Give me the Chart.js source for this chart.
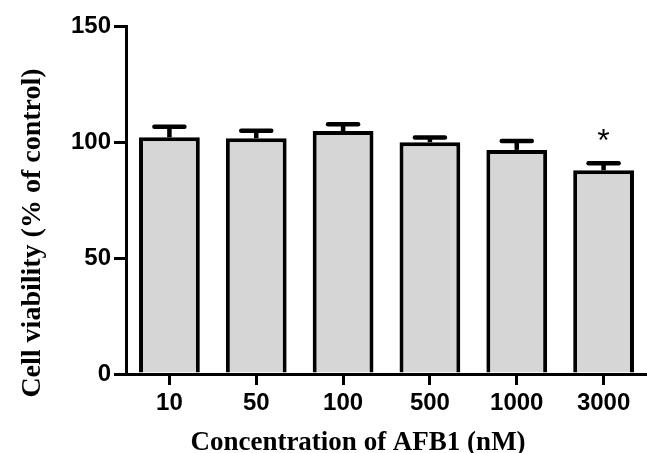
<!DOCTYPE html>
<html>
<head>
<meta charset="utf-8">
<script src="https://cdn.jsdelivr.net/npm/chart.js@4"></script>
<style>
  html, body { margin: 0; padding: 0; background: #fff; }
  #wrap { width: 647px; height: 453px; position: relative; }
</style>
</head>
<body>
<div id="wrap"><canvas id="cellChart"></canvas></div>
<script>
const concentrations = ['10', '50', '100', '500', '1000', '3000'];
const viability = [102.0, 101.6, 104.7, 99.9, 96.6, 87.8];
const sem = [4.6, 3.3, 2.9, 2.0, 3.8, 3.0];
const significance = ['', '', '', '', '', '*'];
const yTicks = [0, 50, 100, 150];

const tickFont = { family: 'Liberation Sans', size: 24, weight: 'bold' };

// error bars + asterisks on top of the bars
const errorBars = {
    id: 'errorBars',
    afterDatasetsDraw(chart) {
        const ctx = chart.ctx;
        const y = chart.scales.y;
        const meta = chart.getDatasetMeta(0);
        ctx.save();
        ctx.strokeStyle = '#000';
        ctx.fillStyle = '#000';
        ctx.lineWidth = 4.5;
        meta.data.forEach((bar, i) => {
            const top = y.getPixelForValue(viability[i] + sem[i]);
            const base = y.getPixelForValue(viability[i]);
            ctx.lineCap = 'butt';
            ctx.beginPath();
            ctx.moveTo(bar.x, base);
            ctx.lineTo(bar.x, top);
            ctx.stroke();
            ctx.lineCap = 'round';
            ctx.beginPath();
            ctx.moveTo(bar.x - 15, top);
            ctx.lineTo(bar.x + 15, top);
            ctx.stroke();
            if (significance[i]) {
                ctx.font = '32px "Liberation Sans"';
                ctx.textAlign = 'center';
                ctx.textBaseline = 'alphabetic';
                ctx.fillText(significance[i], bar.x, top - 12);
            }
        });
        ctx.restore();
    }
};

// axis titles, placed like the original figure (not centred on the axes)
const axisTitles = {
    id: 'axisTitles',
    afterDraw(chart) {
        const ctx = chart.ctx;
        const area = chart.chartArea;
        ctx.save();
        ctx.fillStyle = '#000';
        ctx.textAlign = 'center';
        ctx.textBaseline = 'middle';
        ctx.font = 'bold 27px "Liberation Serif"';
        ctx.fillText('Concentration of AFB1 (nM)', 358, area.bottom + 69);
        ctx.font = 'bold 28px "Liberation Serif"';
        ctx.translate(33, 233);
        ctx.rotate(-Math.PI / 2);
        ctx.fillText('Cell viability (% of control)', 0, 0);
        ctx.restore();
    }
};

new Chart(document.getElementById('cellChart'), {
    type: 'bar',
    data: {
        labels: concentrations,
        datasets: [{
            data: viability,
            backgroundColor: '#d6d6d6',
            borderColor: '#000',
            borderWidth: 4,
            borderSkipped: 'start',
            barPercentage: 0.7,
            categoryPercentage: 1.0
        }]
    },
    options: {
        responsive: true,
        maintainAspectRatio: false,
        animation: false,
        layout: { padding: { top: 26, left: 0, right: 0, bottom: 0 } },
        plugins: {
            legend: { display: false },
            tooltip: { enabled: false }
        },
        scales: {
            x: {
                afterFit(scale) { scale.height = 79; },
                grid: {
                    offset: false,
                    drawOnChartArea: false,
                    tickLength: 11,
                    color: '#000',
                    lineWidth: 3
                },
                border: { color: '#000', width: 3 },
                ticks: { color: '#000', font: tickFont, padding: 4 }
            },
            y: {
                min: 0,
                max: 150,
                afterFit(scale) { scale.width = 126; },
                afterBuildTicks(scale) { scale.ticks = yTicks.map(v => ({ value: v })); },
                grid: {
                    drawOnChartArea: false,
                    tickLength: 12,
                    color: '#000',
                    lineWidth: 3
                },
                border: { color: '#000', width: 3 },
                ticks: { color: '#000', font: tickFont, padding: 3 }
            }
        }
    },
    plugins: [errorBars, axisTitles]
});
</script>
</body>
</html>
